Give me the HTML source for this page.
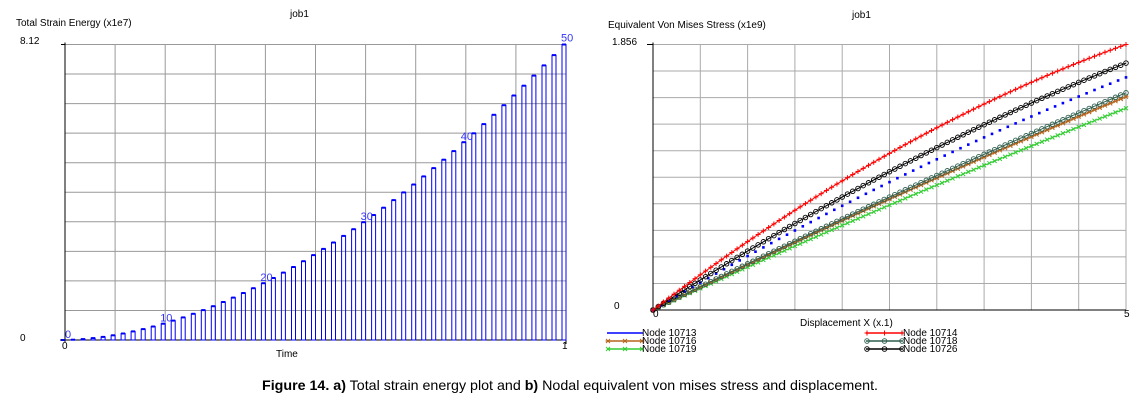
<!DOCTYPE html>
<html><head><meta charset="utf-8"><style>
html,body{margin:0;padding:0;background:#fff;width:1140px;height:405px;overflow:hidden}
svg{display:block}
text{font-family:"Liberation Sans",sans-serif;font-size:10px;fill:#000}
</style></head><body>
<svg id="s" width="1140" height="405" xmlns="http://www.w3.org/2000/svg">
<g id="g"></g>
<text x="290" y="17" font-size="10">job1</text>
<text x="16" y="26">Total Strain Energy (x1e7)</text>
<text x="20" y="44">8.12</text>
<text x="20" y="341">0</text>
<text x="62" y="349">0</text>
<text x="562" y="349">1</text>
<text x="276" y="357">Time</text>
<text x="852" y="18">job1</text>
<text x="608" y="28">Equivalent Von Mises Stress (x1e9)</text>
<text x="612" y="45">1.856</text>
<text x="614" y="309">0</text>
<text x="653" y="317">0</text>
<text x="1124" y="317">5</text>
<text x="800" y="326">Displacement X (x.1)</text>
<text x="642" y="336">Node 10713</text>
<text x="642" y="344">Node 10716</text>
<text x="642" y="352">Node 10719</text>
<text x="903" y="336">Node 10714</text>
<text x="903" y="344">Node 10718</text>
<text x="903" y="352">Node 10726</text>
<text x="570" y="390" text-anchor="middle" textLength="616" lengthAdjust="spacingAndGlyphs" style="font-size:14px"><tspan font-weight="bold">Figure 14. a)</tspan> Total strain energy plot and <tspan font-weight="bold">b)</tspan> Nodal equivalent von mises stress and displacement.</text>
</svg>
<script>
var g=document.getElementById('g'),h='';
function L(x1,y1,x2,y2,c,w){h+='<line x1="'+x1+'" y1="'+y1+'" x2="'+x2+'" y2="'+y2+'" stroke="'+c+'" stroke-width="'+(w||1)+'"/>';}
var lx=65,rx=566,ty=44.5,by=340;
for(var i=0;i<=10;i++){var x=lx+(rx-lx)*i/10;L(x,ty,x,by,'#999');var y=ty+(by-ty)*i/10;L(lx,y,rx,y,'#999');}
L(lx,ty-2,lx,by+2,'#000');L(lx-5,by,rx,by,'#000');L(lx-4,ty,lx,ty,'#000');L(rx,by,rx,by+4,'#000');
for(var t=0;t<=50;t++){var x=lx+(rx-lx)*t/50;var v=Math.pow(t/50,1.8);var y=by-(by-ty)*v;
 h+='<rect x="'+(x-4).toFixed(1)+'" y="'+y.toFixed(1)+'" width="4" height="'+(by-y).toFixed(1)+'" fill="none" stroke="#00f" stroke-width="1"/>';
 h+='<rect x="'+(x-4).toFixed(1)+'" y="'+(y-1).toFixed(1)+'" width="4" height="2" fill="#00f"/>';}
[0,10,20,30,40,50].forEach(function(t){var x=lx+(rx-lx)*t/50;var y=by-(by-ty)*Math.pow(t/50,1.8);
 h+='<text x="'+(x-(t?5:0))+'" y="'+(y-(t==50?3:2))+'" style="fill:#33f;font-size:11px">'+t+'</text>';});
var Lx=653,Rx=1126,Ty=44.5,By=310;
for(var i=0;i<=10;i++){var x=Lx+(Rx-Lx)*i/10;L(x,Ty,x,By,'#aaa');var y=Ty+(By-Ty)*i/10;L(Lx,y,Rx,y,'#aaa');}
L(Lx,Ty-2,Lx,By,'#000');L(Lx,By,Rx,By,'#000');L(Lx-6,Ty,Lx,Ty,'#000');
var S=[
 {c:'#3c3',A:0.76,k:0.08,m:'x'},
 {c:'#b5651d',A:0.803,k:0.08,m:'*'},
 {c:'#2f5f4f',A:0.818,k:0.08,m:'o'},
 {c:'#00f',A:0.876,k:0.2,m:'s'},
 {c:'#000',A:0.93,k:0.24,m:'o'},
 {c:'#f00',A:1.0,k:0.36,m:'+'}];
function mk(m,x,y,c){
 if(m=='+'){L(x-2.5,y,x+2.5,y,c);L(x,y-2.5,x,y+2.5,c);}
 else if(m=='x'){L(x-2,y-2,x+2,y+2,c);L(x-2,y+2,x+2,y-2,c);}
 else if(m=='*'){L(x-2,y-2,x+2,y+2,c);L(x-2,y+2,x+2,y-2,c);L(x-2.5,y,x+2.5,y,c);}
 else if(m=='o'){h+='<circle cx="'+x.toFixed(1)+'" cy="'+y.toFixed(1)+'" r="2.3" fill="none" stroke="'+c+'" stroke-width="0.9"/>';}
 else if(m=='s'){h+='<rect x="'+(x-1.3).toFixed(1)+'" y="'+(y-1.3).toFixed(1)+'" width="2.6" height="2.6" fill="'+c+'"/>';}
}
S.forEach(function(s){var col=s.c;var pts=[];var N=s.m=='s'?60:90;
 for(var i=0;i<=N;i++){var u=i/N;var v=s.A*(u+s.k*u*(1-u));pts.push([Lx+(Rx-Lx)*u,By-(By-Ty)*v]);}
 if(s.m!='s'){var d='';pts.forEach(function(p,i){d+=(i?'L':'M')+p[0].toFixed(1)+' '+p[1].toFixed(1);});
  h+='<path d="'+d+'" fill="none" stroke="'+col+'" stroke-width="1"/>';}
 pts.forEach(function(p){mk(s.m,p[0],p[1],col);});
});
function leg(x1,x2,y,c,m){L(x1,y,x2,y,c,1.5);if(m){[x1+1,(x1+x2)/2,x2-1].forEach(function(x){mk(m,x,y,c);});}}
leg(607,643,333,'#00f','');leg(607,643,341,'#b5651d','*');leg(607,643,349,'#3c3','x');
leg(866,903,333,'#f00','+');leg(866,903,341,'#2f5f4f','o');leg(866,903,349,'#000','o');
g.innerHTML=h;
</script>
</body></html>
